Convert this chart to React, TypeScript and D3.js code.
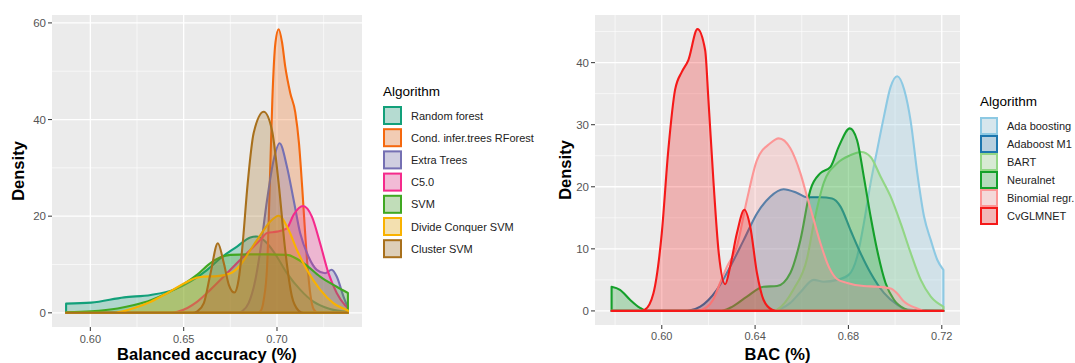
import React from "react";
import * as d3 from "d3";

type Pt = [number, number];

// ---- left chart: balanced accuracy densities ----
const leftNames = [
  "Random forest",
  "Cond. infer.trees RForest",
  "Extra Trees",
  "C5.0",
  "SVM",
  "Divide Conquer SVM",
  "Cluster SVM",
];
const leftColors = ["#12A07A", "#F5680E", "#7570B3", "#F52A8C", "#40A822", "#F9B200", "#A8701C"];

const randomForest: Pt[] = [
  [0.587, 1.9], [0.6004, 2.1], [0.6181, 3.2], [0.6324, 3.7], [0.6449, 4.8], [0.6537, 6.5],
  [0.6626, 8.9], [0.6697, 11.3], [0.6786, 13.7], [0.6857, 15.6], [0.6893, 15.8], [0.6947, 14.4],
  [0.7, 11.6], [0.7053, 8.2], [0.7124, 4.8], [0.7195, 2.3], [0.7284, 0.8], [0.738, 0.2],
];
const condInferTrees: Pt[] = [
  [0.587, 0], [0.689, 0], [0.6911, 0.3], [0.6929, 2.7], [0.6947, 9.6], [0.6964, 30], [0.6975, 44],
  [0.6992, 56], [0.7009, 58.7], [0.7027, 56], [0.7044, 51], [0.7071, 45.5], [0.7098, 41.5],
  [0.7118, 35], [0.7135, 26], [0.715, 17], [0.7165, 9], [0.718, 3.5], [0.7197, 0.7], [0.722, 0],
  [0.738, 0],
];
const extraTrees: Pt[] = [
  [0.587, 0], [0.679, 0], [0.6813, 0.3], [0.6848, 2], [0.6884, 6.8], [0.6911, 13], [0.6947, 23.4],
  [0.6982, 31.6], [0.7014, 35.1], [0.7053, 30.3], [0.7089, 23.4], [0.7124, 16.5], [0.7169, 11.6],
  [0.7213, 8.9], [0.7258, 8.2], [0.7293, 8.9], [0.732, 7.5], [0.7356, 3.4], [0.738, 1],
];
const c50: Pt[] = [
  [0.587, 0], [0.644, 0], [0.6466, 0.2], [0.652, 1], [0.6573, 2.3], [0.6644, 4.8], [0.6715, 7.5],
  [0.6786, 10.3], [0.6857, 13], [0.6911, 15.1], [0.6947, 16.5], [0.7, 16.8], [0.7053, 17.5],
  [0.7089, 20.3], [0.714, 22.1], [0.7187, 19.9], [0.7231, 14.4], [0.7276, 8.2], [0.732, 4.1],
  [0.7364, 1.6], [0.738, 1],
];
const svm: Pt[] = [
  [0.587, 0.1], [0.6004, 0.3], [0.6146, 0.9], [0.6235, 1.6], [0.6324, 2.6], [0.6413, 4.1],
  [0.6502, 6], [0.6573, 7.9], [0.664, 10.2], [0.6697, 11.5], [0.675, 12], [0.685, 12.1],
  [0.695, 12.1], [0.7053, 12], [0.7142, 10.3], [0.7231, 7.5], [0.732, 5.4], [0.738, 4.1],
];
const divideConquerSvm: Pt[] = [
  [0.587, 0], [0.612, 0], [0.6146, 0.1], [0.6235, 1], [0.6324, 2.3], [0.6413, 4.1], [0.6502, 6.1],
  [0.6573, 7.3], [0.6608, 7.5], [0.668, 7.6], [0.6751, 8.2], [0.6804, 9.9], [0.6857, 13],
  [0.6911, 16.1], [0.6964, 18.9], [0.7009, 20.1], [0.7062, 17.2], [0.7107, 13], [0.716, 8.9],
  [0.7231, 4.8], [0.7302, 2], [0.738, 0.5],
];
const clusterSvm: Pt[] = [
  [0.587, 0], [0.655, 0], [0.6573, 0.3], [0.6608, 2], [0.6644, 8.2], [0.6683, 14.4], [0.6715, 10.3],
  [0.6742, 5.8], [0.6772, 4.2], [0.6795, 7], [0.6813, 13], [0.6843, 26.8], [0.6875, 37.2],
  [0.6929, 41.6], [0.6973, 37.8], [0.7009, 26.8], [0.7044, 13], [0.708, 3.4], [0.7115, 0.5],
  [0.714, 0], [0.738, 0],
];
const leftSeries = [randomForest, condInferTrees, extraTrees, c50, svm, divideConquerSvm, clusterSvm];
const leftXTicks = [0.6, 0.65, 0.7];
const leftXMinor = [0.625, 0.675, 0.725];
const leftYTicks = [0, 20, 40, 60];
const leftYMinor = [10, 30, 50];

// ---- right chart: BAC densities ----
const rightNames = ["Ada boosting", "Adaboost M1", "BART", "Neuralnet", "Binomial regr.", "CvGLMNET"];
const rightColors = ["#8DC9E3", "#1C76AE", "#92D685", "#14A02A", "#FC9696", "#F51919"];

const adaBoosting: Pt[] = [
  [0.5785, 0], [0.648, 0], [0.6508, 0.3], [0.6551, 1.3], [0.6594, 3], [0.6651, 5], [0.6694, 4.7],
  [0.6752, 5], [0.6801, 5.8], [0.6837, 8.7], [0.6866, 14.1], [0.6895, 20.6], [0.6923, 25.9],
  [0.6952, 31.3], [0.698, 36], [0.7009, 37.8], [0.704, 35.5], [0.7067, 30.5], [0.7095, 22.2],
  [0.7124, 15.2], [0.7153, 11.4], [0.7181, 8.2], [0.7207, 6.6],
];
const adaboostM1: Pt[] = [
  [0.5785, 0], [0.61, 0], [0.6122, 0.1], [0.6165, 0.7], [0.6236, 3.4], [0.6293, 7.1], [0.6351, 11.4],
  [0.6408, 15.7], [0.6465, 18.4], [0.6522, 19.6], [0.658, 19], [0.6623, 18.3], [0.668, 18.3],
  [0.673, 18.1], [0.6766, 16.8], [0.6809, 13], [0.6852, 9.3], [0.6895, 6.1], [0.6952, 2.9],
  [0.7009, 1], [0.705, 0.2], [0.7207, 0],
];
const bart: Pt[] = [
  [0.5785, 0], [0.648, 0], [0.6494, 0.2], [0.6565, 3.5], [0.6623, 8.5], [0.6651, 14], [0.6694, 20.6],
  [0.6752, 23.8], [0.6809, 25.1], [0.6855, 25.6], [0.6895, 24.8], [0.6938, 21.6], [0.6981, 18.4],
  [0.7024, 14.1], [0.7067, 9.3], [0.711, 5], [0.7153, 2.3], [0.7207, 0.7],
];
const neuralnet: Pt[] = [
  [0.5785, 3.9], [0.5821, 3.4], [0.5864, 1.8], [0.5907, 0.5], [0.594, 0], [0.625, 0], [0.6293, 0.5],
  [0.6365, 2.3], [0.6436, 3.9], [0.6494, 4], [0.6551, 6.1], [0.6594, 11.4], [0.6637, 19.5],
  [0.668, 22.2], [0.6723, 23.2], [0.6759, 26.5], [0.6806, 29.4], [0.6837, 27.5], [0.6866, 21.6],
  [0.6895, 15.2], [0.6923, 9.8], [0.6959, 4.5], [0.6995, 1.8], [0.7038, 0.4], [0.707, 0], [0.7207, 0],
];
const binomialRegr: Pt[] = [
  [0.5785, 0], [0.615, 0], [0.6193, 0.6], [0.622, 1.8], [0.625, 4.5], [0.6279, 7.1], [0.6322, 10.4],
  [0.6365, 17.9], [0.6408, 24.3], [0.6465, 27], [0.6501, 27.8], [0.6551, 26.2], [0.6594, 22.2],
  [0.6623, 18.4], [0.6651, 14.7], [0.668, 10.9], [0.6716, 7.1], [0.6752, 5.1], [0.6795, 4.5],
  [0.6866, 4], [0.6923, 3.9], [0.6981, 3.6], [0.7009, 2.8], [0.7038, 1.5], [0.7095, 0.4],
  [0.713, 0], [0.7207, 0],
];
const cvGlmnet: Pt[] = [
  [0.5785, 0], [0.591, 0], [0.5928, 0.2], [0.5964, 2.8], [0.6, 12.5], [0.6028, 25.9], [0.6057, 35.6],
  [0.6086, 38.5], [0.6114, 40.4], [0.6153, 45.4], [0.6186, 42], [0.62, 34], [0.6222, 20.6],
  [0.6243, 9.8], [0.6272, 4.3], [0.6293, 7.1], [0.6322, 12.5], [0.6354, 16.3], [0.6379, 13.6],
  [0.6408, 6.1], [0.6436, 1.8], [0.6473, 0.2], [0.65, 0], [0.7207, 0],
];
const rightSeries = [adaBoosting, adaboostM1, bart, neuralnet, binomialRegr, cvGlmnet];
const rightXTicks = [0.6, 0.64, 0.68, 0.72];
const rightXMinor = [0.58, 0.62, 0.66, 0.7];
const rightYTicks = [0, 10, 20, 30, 40];
const rightYMinor = [5, 15, 25, 35, 45];

const FONT = "'Liberation Sans', Arial, sans-serif";

type PanelProps = {
  box: { left: number; right: number; top: number; bottom: number };
  series: Pt[][];
  colors: string[];
  xTicks: number[];
  xMinor: number[];
  yTicks: number[];
  yMinor: number[];
  xFormat: (v: number) => string;
  xTitle: string;
  yTitleX: number;
  xLabelDy: number;
};

const DensityPanel = ({ box, series, colors, xTicks, xMinor, yTicks, yMinor, xFormat, xTitle, yTitleX, xLabelDy }: PanelProps) => {
  const all = series.flat();
  const [xMin, xMax] = d3.extent(all, d => d[0]) as [number, number];
  const yMax = d3.max(all, d => d[1]) as number;
  const xPad = (xMax - xMin) * 0.05;
  const x = d3.scaleLinear().domain([xMin - xPad, xMax + xPad]).range([box.left, box.right]);
  const y = d3.scaleLinear().domain([-yMax * 0.05, yMax * 1.05]).range([box.bottom, box.top]);
  const area = d3.area<Pt>()
    .x(d => x(d[0]))
    .y0(y(0))
    .y1(d => y(d[1]))
    .curve(d3.curveMonotoneX);

  return (
    <g>
      <rect x={box.left} y={box.top} width={box.right - box.left} height={box.bottom - box.top} fill="#EBEBEB" />
      {yMinor.map(v => (
        <line key={"ym" + v} x1={box.left} x2={box.right} y1={y(v)} y2={y(v)} stroke="#fff" strokeWidth={0.6} />
      ))}
      {xMinor.map(v => (
        <line key={"xm" + v} x1={x(v)} x2={x(v)} y1={box.top} y2={box.bottom} stroke="#fff" strokeWidth={0.6} />
      ))}
      {yTicks.map(v => (
        <line key={"yM" + v} x1={box.left} x2={box.right} y1={y(v)} y2={y(v)} stroke="#fff" strokeWidth={1.3} />
      ))}
      {xTicks.map(v => (
        <line key={"xM" + v} x1={x(v)} x2={x(v)} y1={box.top} y2={box.bottom} stroke="#fff" strokeWidth={1.3} />
      ))}

      {series.map((s, i) => (
        <path key={i} d={area(s) || ""} fill={colors[i]} fillOpacity={0.27} stroke={colors[i]}
          strokeWidth={2.1} strokeLinejoin="round" />
      ))}

      {/* axes */}
      {yTicks.map(v => (
        <g key={"yt" + v}>
          <line x1={box.left - 4} x2={box.left} y1={y(v)} y2={y(v)} stroke="#444" strokeWidth={1.1} />
          <text x={box.left - 6} y={y(v) + 4} textAnchor="end" fontSize={11.5} fill="#555" fontFamily={FONT}>{v}</text>
        </g>
      ))}
      {xTicks.map(v => (
        <g key={"xt" + v}>
          <line x1={x(v)} x2={x(v)} y1={box.bottom} y2={box.bottom + 4} stroke="#444" strokeWidth={1.1} />
          <text x={x(v)} y={box.bottom + xLabelDy} textAnchor="middle" fontSize={11} fill="#555" fontFamily={FONT}>{xFormat(v)}</text>
        </g>
      ))}
      <text x={(box.left + box.right) / 2} y={360} textAnchor="middle" fontSize={16.5} fontWeight="bold" fill="#000" fontFamily={FONT}>{xTitle}</text>
      <text transform={`translate(${yTitleX},${(box.top + box.bottom) / 2}) rotate(-90)`} textAnchor="middle"
        fontSize={16.5} fontWeight="bold" fill="#000" fontFamily={FONT}>Density</text>
    </g>
  );
};

type LegendProps = { x: number; titleY: number; firstY: number; step: number; size: number; names: string[]; colors: string[] };

const Legend = ({ x, titleY, firstY, step, size, names, colors }: LegendProps) => (
  <g fontFamily={FONT}>
    <text x={x} y={titleY} fontSize={13.5} fill="#000">Algorithm</text>
    {names.map((n, i) => {
      const cy = firstY + i * step;
      return (
        <g key={n}>
          <rect x={x} y={cy - size / 2} width={size} height={size} fill="#F2F2F2" />
          <rect x={x + 1} y={cy - size / 2 + 1} width={size - 2} height={size - 2} fill={colors[i]} fillOpacity={0.27}
            stroke={colors[i]} strokeWidth={2} />
          <text x={x + size + 9} y={cy + 4} fontSize={11} fill="#222">{n}</text>
        </g>
      );
    })}
  </g>
);

export default function App() {
  return (
    <svg width={1075} height={363} style={{ position: "absolute", left: 0, top: 0, background: "#fff" }}>
      <DensityPanel
        box={{ left: 52, right: 362, top: 15, bottom: 327 }}
        series={leftSeries}
        colors={leftColors}
        xTicks={leftXTicks}
        xMinor={leftXMinor}
        yTicks={leftYTicks}
        yMinor={leftYMinor}
        xFormat={d3.format(".2f")}
        xTitle="Balanced accuracy (%)"
        yTitleX={24}
        xLabelDy={15.5}
      />
      <Legend x={383} titleY={96} firstY={115.5} step={22.2} size={19} names={leftNames} colors={leftColors} />
      <DensityPanel
        box={{ left: 595, right: 960, top: 15, bottom: 325 }}
        series={rightSeries}
        colors={rightColors}
        xTicks={rightXTicks}
        xMinor={rightXMinor}
        yTicks={rightYTicks}
        yMinor={rightYMinor}
        xFormat={d3.format(".2f")}
        xTitle="BAC (%)"
        yTitleX={571}
        xLabelDy={15}
      />
      <Legend x={980} titleY={106} firstY={126} step={18} size={18} names={rightNames} colors={rightColors} />
    </svg>
  );
}
